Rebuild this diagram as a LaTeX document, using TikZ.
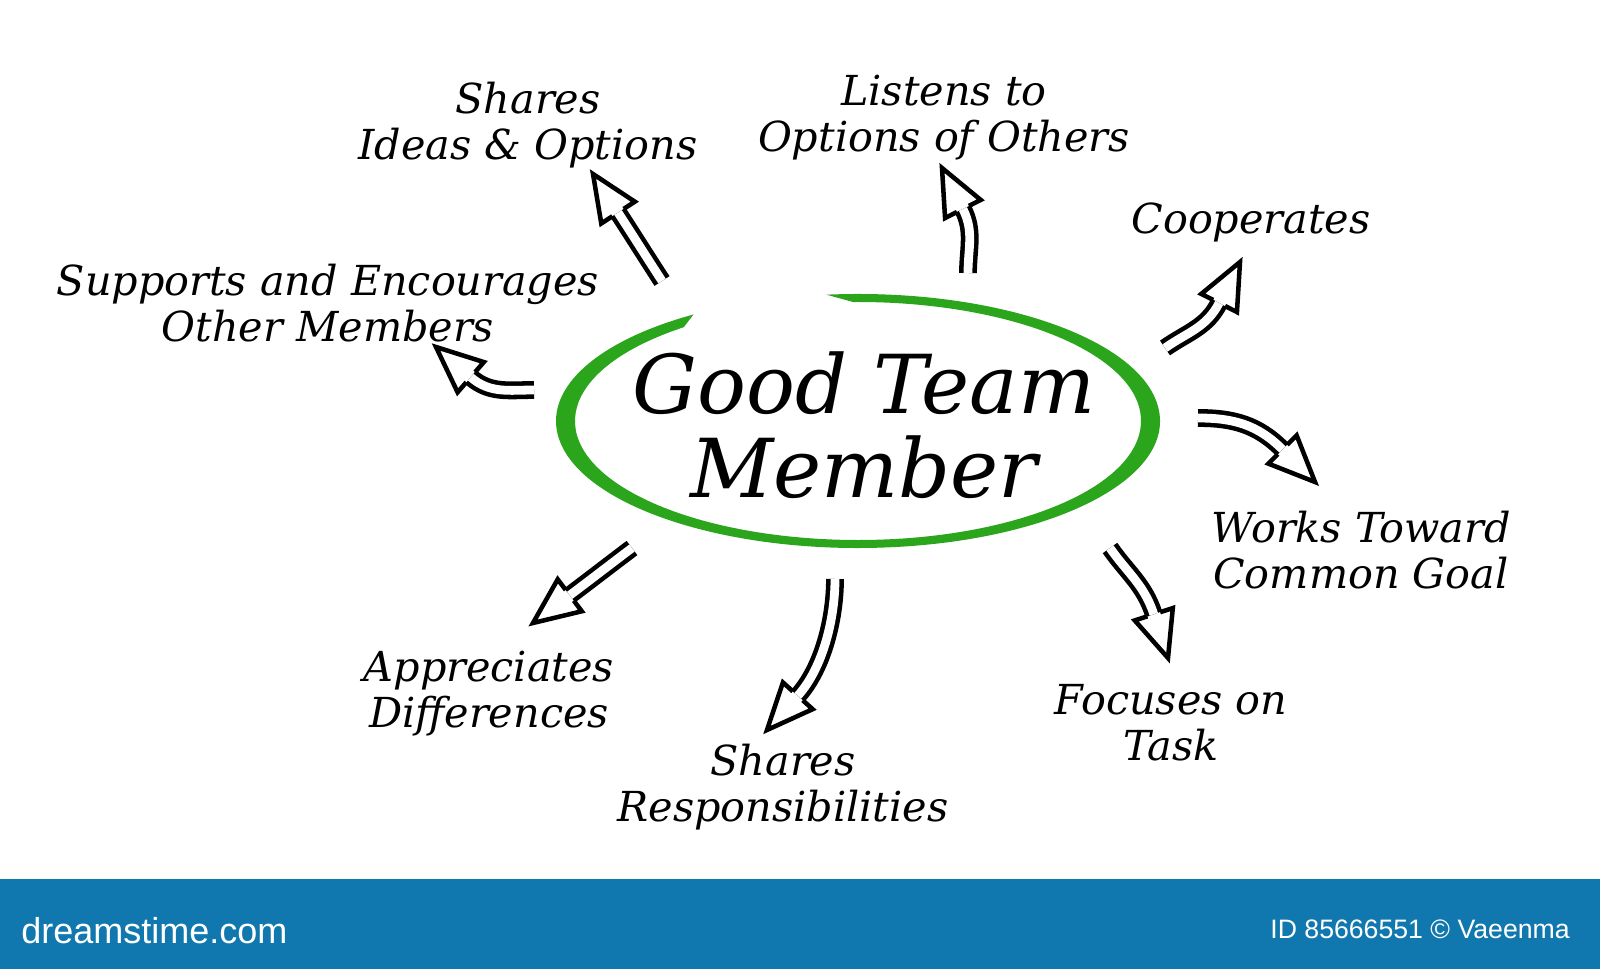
\documentclass[tikz,border=0pt]{standalone}
\usepackage{xcolor}
\usepackage{fontspec}
\setmainfont{DejaVu Serif}
\setsansfont{Liberation Sans}
\usepackage{tikz}
\usetikzlibrary{calc}

\definecolor{ringgreen}{RGB}{43,165,27}
\definecolor{barblue}{RGB}{16,120,174}

\tikzset{
  shaft/.style={draw=black, line width=3.4pt, double=white, double distance=6.6pt},
  headline/.style={draw=black, line width=3.4pt, line join=miter, miter limit=4},
  label/.style={inner sep=0.75pt, align=center, font=\fontsize{31}{34.5}\selectfont\itshape},
}
% open head at base #1, pointing at angle #2
\newcommand{\tiphead}[2]{\draw[headline] ($(#1)+({#2+90}:6.7)$) -- ($(#1)+({#2+90}:20)$) -- ($(#1)+(#2:46)$) -- ($(#1)+({#2-90}:20)$) -- ($(#1)+({#2-90}:6.7)$);}

\begin{document}
\begin{tikzpicture}[x=0.75pt,y=0.75pt,yscale=-1,xscale=1]
\useasboundingbox (0,0) rectangle (1600,969);
\fill[white] (0,0) rectangle (1600,969);

        %Shape: Ring
        \coordinate (ring) at (858,421);
        \fill[ringgreen] ($(ring)+(264:302 and 127)$) arc[start angle=264, end angle=597, x radius=302, y radius=127]
              -- ($(ring)+(592:283 and 119)$) arc[start angle=592, end angle=269, x radius=283, y radius=119] -- cycle;

        \node (member) [inner sep=0.75pt, align=center, font=\fontsize{61}{63}\selectfont\itshape] at (864,425) {Good Team\\Member};

        %Labels
        \node (ideas) [label] at (528,125) {Shares\\Ideas \& Options};
        \node (listens) [label] at (944,118) {Listens to\\Options of Others};
        \node (coop) [label] at (1251,222) {Cooperates};
        \node (supports) [label] at (328,303) {Supports and Encourages\\Other Members};
        \node (works) [label] at (1361,550) {Works Toward\\Common Goal};
        \node (focus) [label] at (1171,723) {Focuses on\\Task};
        \node (resp) [label] at (783,787) {Shares\\Responsibilities};
        \node (apprec) [label] at (489,694) {Appreciates\\Differences};

        %Arrow ends
        \coordinate (a1s) at (662,281);  \coordinate (a1b) at ($(593,174)+(57:46)$);
        \coordinate (a2s) at (968,273);  \coordinate (a2b) at ($(942,168)+(63:46)$);
        \coordinate (a3s) at (1165,348); \coordinate (a3b) at ($(1240,262)+(117:46)$);
        \coordinate (a4s) at (534,390);  \coordinate (a4b) at ($(436,347)+(41:46)$);
        \coordinate (a5s) at (1198,418); \coordinate (a5b) at ($(1315,482)+(225:46)$);
        \coordinate (a6s) at (1110,548); \coordinate (a6b) at ($(1168,658)+(252:46)$);
        \coordinate (a7s) at (835,579);  \coordinate (a7b) at ($(767,730)+(312:46)$);
        \coordinate (a8s) at (632,548);  \coordinate (a8b) at ($(533,623)+(323:46)$);

        %Straight Lines
        \draw[shaft] (a1s) to[out=237,in=57] (a1b);
        \tiphead{a1b}{237}
        %Curve Lines
        \draw[shaft] (a2s) to[out=270,in=63] (a2b);
        \tiphead{a2b}{243}
        %Curve Lines
        \draw[shaft] (a3s) to[out=325,in=117] (a3b);
        \tiphead{a3b}{297}
        %Curve Lines
        \draw[shaft] (a4s) to[out=180,in=41] (a4b);
        \tiphead{a4b}{221}
        %Curve Lines
        \draw[shaft] (a5s) to[out=0,in=225] (a5b);
        \tiphead{a5b}{45}
        %Curve Lines
        \draw[shaft] (a6s) to[out=55,in=252] (a6b);
        \tiphead{a6b}{72}
        %Curve Lines
        \draw[shaft] (a7s) to[out=90,in=312,looseness=0.8] (a7b);
        \tiphead{a7b}{132}
        %Straight Lines
        \draw[shaft] (a8s) to[out=143,in=323] (a8b);
        \tiphead{a8b}{143}

        %Footer bar
        \fill[barblue] (0,879) rectangle (1600,969);
        \node (site) [anchor=west, inner sep=0.75pt, text=white, font=\sffamily\fontsize{27}{27}\selectfont] at (20,931) {dreamstime.com};
        \node (credit) [anchor=east, inner sep=0.75pt, text=white, font=\sffamily\fontsize{20}{20}\selectfont] at (1571,929) {ID 85666551 © Vaeenma};
\end{tikzpicture}
\end{document}
